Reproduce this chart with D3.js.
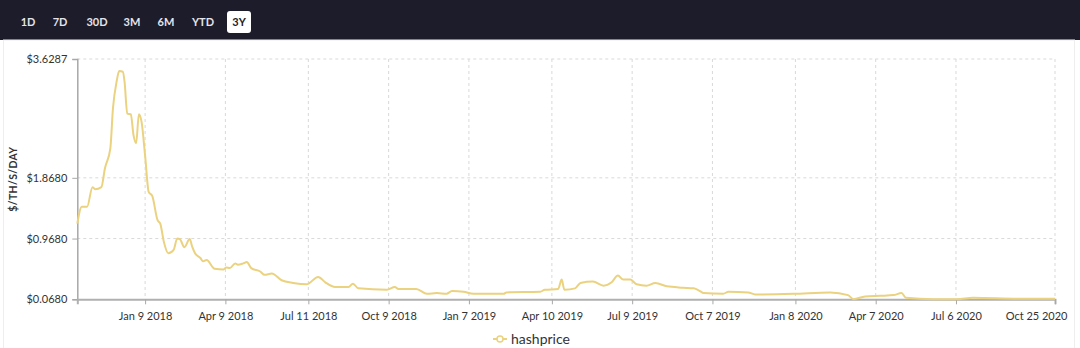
<!DOCTYPE html>
<html>
<head>
<meta charset="utf-8">
<script src="https://cdn.jsdelivr.net/npm/d3@7/dist/d3.min.js"></script>
<style>
  html, body { margin: 0; padding: 0; background: #fff; }
  svg { display: block; font-family: Lato, "Open Sans", sans-serif; }
</style>
</head>
<body>
<svg id="chart" width="1080" height="348"></svg>
<script>
// Range selector buttons
const ranges = ["1D", "7D", "30D", "3M", "6M", "YTD", "3Y"];
const activeRange = "3Y";

// Hashprice series ($/TH/s/day)
const dates = [
  "2017-10-25","2017-10-30","2017-11-05","2017-11-11","2017-11-14","2017-11-21","2017-11-25",
  "2017-12-01","2017-12-04","2017-12-08","2017-12-11","2017-12-15","2017-12-17","2017-12-20",
  "2017-12-24","2017-12-27","2017-12-30","2018-01-02","2018-01-05","2018-01-09","2018-01-13",
  "2018-01-17","2018-01-23","2018-01-26","2018-01-30","2018-02-04","2018-02-10","2018-02-14",
  "2018-02-17","2018-02-22","2018-02-28","2018-03-03","2018-03-06","2018-03-12","2018-03-15",
  "2018-03-19","2018-03-28","2018-04-07","2018-04-10","2018-04-14","2018-04-20","2018-04-23",
  "2018-04-29","2018-05-03","2018-05-08","2018-05-18","2018-05-23","2018-05-31","2018-06-11",
  "2018-06-24","2018-07-09","2018-07-22","2018-07-30","2018-08-10","2018-08-25","2018-08-30",
  "2018-09-05","2018-10-07","2018-10-16","2018-10-20","2018-11-09","2018-11-21","2018-12-02",
  "2018-12-13","2018-12-19","2019-01-01","2019-01-12","2019-02-15","2019-02-18","2019-03-28",
  "2019-04-02","2019-04-17","2019-04-21","2019-04-24","2019-05-06","2019-05-12","2019-05-26",
  "2019-06-07","2019-06-16","2019-06-23","2019-06-29","2019-07-07","2019-07-14","2019-07-25",
  "2019-08-04","2019-08-17","2019-09-04","2019-09-16","2019-09-23","2019-09-27","2019-10-19",
  "2019-10-25","2019-11-16","2019-11-24","2020-01-06","2020-02-16","2020-03-07","2020-03-13",
  "2020-03-26","2020-04-12","2020-04-27","2020-05-06","2020-05-11","2020-06-11","2020-07-07",
  "2020-07-25","2020-09-16","2020-10-25"
];
const hashprice = [
  1.19, 1.44, 1.44, 1.73, 1.70, 1.73, 2.01,
  2.30, 2.90, 3.29, 3.45, 3.44, 3.29, 2.82,
  2.81, 2.50, 2.38, 2.81, 2.70, 2.20, 1.66,
  1.60, 1.24, 1.19, 0.92, 0.75, 0.80, 0.97,
  0.96, 0.84, 0.96, 0.84, 0.75, 0.68, 0.63,
  0.65, 0.52, 0.51, 0.54, 0.53, 0.60, 0.58,
  0.60, 0.62, 0.53, 0.48, 0.43, 0.45, 0.35,
  0.31, 0.29, 0.40, 0.32, 0.25, 0.25, 0.30,
  0.23, 0.21, 0.25, 0.22, 0.22, 0.15, 0.16,
  0.15, 0.19, 0.18, 0.15, 0.15, 0.17, 0.18,
  0.21, 0.22, 0.36, 0.21, 0.23, 0.31, 0.33,
  0.27, 0.32, 0.42, 0.36, 0.36, 0.29, 0.27,
  0.31, 0.26, 0.24, 0.23, 0.19, 0.16, 0.15,
  0.18, 0.17, 0.14, 0.15, 0.17, 0.13, 0.07,
  0.11, 0.12, 0.13, 0.16, 0.09, 0.07, 0.07,
  0.09, 0.075, 0.075
];

// Axis ticks
const xTickDates = ["2018-01-09","2018-04-09","2018-07-11","2018-10-09","2019-01-07","2019-04-10",
                    "2019-07-09","2019-10-07","2020-01-08","2020-04-07","2020-07-06","2020-10-25"];
const xTickLabels = ["Jan 9 2018","Apr 9 2018","Jul 11 2018","Oct 9 2018","Jan 7 2019","Apr 10 2019",
                     "Jul 9 2019","Oct 7 2019","Jan 8 2020","Apr 7 2020","Jul 6 2020","Oct 25 2020"];
const yTicks = [0.068, 0.968, 1.868, 3.6287];
const yTickLabels = ["$0.0680", "$0.9680", "$1.8680", "$3.6287"];
const seriesName = "hashprice";
const yTitle = "$/TH/S/DAY";

const parse = d3.timeParse("%Y-%m-%d");
const data = dates.map((d, i) => ({ date: parse(d), value: hashprice[i] }));

const svg = d3.select("#chart");
const W = 1080, H = 348;
const lineColor = "#ebd27f";

// Header bar with range buttons
svg.append("rect").attr("x", 0).attr("y", 0).attr("width", W).attr("height", 40).attr("fill", "#1c1c2a");
const btnX = [28, 60, 97, 132, 166, 203, 239];
const btns = svg.append("g").selectAll("g").data(ranges).join("g")
  .attr("transform", (d, i) => `translate(${btnX[i]},22)`);
btns.filter(d => d === activeRange).append("rect")
  .attr("x", -12).attr("y", -11).attr("width", 24).attr("height", 22).attr("rx", 3)
  .attr("fill", "#ffffff");
btns.append("text")
  .attr("text-anchor", "middle").attr("dy", "0.35em")
  .attr("font-size", 11).attr("font-weight", 700)
  .attr("fill", d => d === activeRange ? "#1c1c2a" : "#e4e4ea")
  .text(d => d);

// Light panel border
svg.append("rect").attr("x", 3.5).attr("y", 40).attr("width", 1071).attr("height", 320)
  .attr("fill", "none").attr("stroke", "#eeeeee");

const mLeft = 77.3, mRight = 1055, mTop = 59, mBottom = 299.3;
const x = d3.scaleTime().domain([parse("2017-10-25"), parse("2020-10-25")]).range([mLeft, mRight]);
const y = d3.scaleLinear().domain([0.068, 3.6287]).range([mBottom, mTop]);

// Grid lines
const grid = svg.append("g").attr("stroke", "#d9d9d9").attr("stroke-dasharray", "3,3").attr("stroke-width", 1);
grid.selectAll("line.v").data(xTickDates).join("line").attr("class", "v")
  .attr("x1", d => x(parse(d))).attr("x2", d => x(parse(d)))
  .attr("y1", mTop).attr("y2", mBottom);
grid.selectAll("line.h").data(yTicks.slice(1)).join("line").attr("class", "h")
  .attr("x1", mLeft).attr("x2", mRight)
  .attr("y1", d => y(d)).attr("y2", d => y(d));

// Y axis
const yAxis = d3.axisLeft(y).tickValues(yTicks).tickSize(5).tickPadding(5)
  .tickFormat((d, i) => yTickLabels[i]);
const gy = svg.append("g").attr("transform", `translate(${mLeft},0)`).call(yAxis);
gy.select(".domain").attr("stroke", "#a8a8a8").attr("stroke-width", 1.5);
gy.selectAll(".tick line").attr("stroke", "#a8a8a8");
gy.selectAll("text").attr("font-size", 11).attr("fill", "#333").attr("font-family", "Lato, sans-serif");

// X axis
const xAxis = d3.axisBottom(x).tickValues(xTickDates.map(parse)).tickSize(5).tickPadding(8)
  .tickFormat((d, i) => xTickLabels[i]);
const gx = svg.append("g").attr("transform", `translate(0,${mBottom})`).call(xAxis);
gx.select(".domain").attr("stroke", "#b0b0b0").attr("stroke-width", 2);
gx.selectAll(".tick line").attr("stroke", "#a8a8a8");
gx.selectAll("text").attr("font-size", 11).attr("fill", "#333").attr("font-family", "Lato, sans-serif");
// keep the last label inside the frame
gx.selectAll(".tick text").filter((d, i, n) => i === n.length - 1)
  .attr("text-anchor", "end").attr("dx", 12);

// Y axis title
svg.append("text")
  .attr("transform", `translate(17,${(mTop + mBottom) / 2}) rotate(-90)`)
  .attr("text-anchor", "middle").attr("font-size", 10.5).attr("font-weight", 700)
  .attr("fill", "#333").attr("letter-spacing", 0.3)
  .text(yTitle);

// Series line
const line = d3.line().x(d => x(d.date)).y(d => y(d.value)).curve(d3.curveMonotoneX);
svg.append("path").datum(data)
  .attr("fill", "none").attr("stroke", lineColor).attr("stroke-width", 2)
  .attr("stroke-linejoin", "round").attr("d", line);

// Legend
const lg = svg.append("g").attr("transform", "translate(500,339)");
lg.append("line").attr("x1", -7).attr("x2", 7).attr("stroke", lineColor).attr("stroke-width", 2);
lg.append("circle").attr("r", 3).attr("fill", "#fff").attr("stroke", lineColor).attr("stroke-width", 1.5);
lg.append("text").attr("x", 11).attr("dy", "0.35em").attr("font-size", 14)
  .attr("fill", "#333").text(seriesName);
</script>
</body>
</html>
